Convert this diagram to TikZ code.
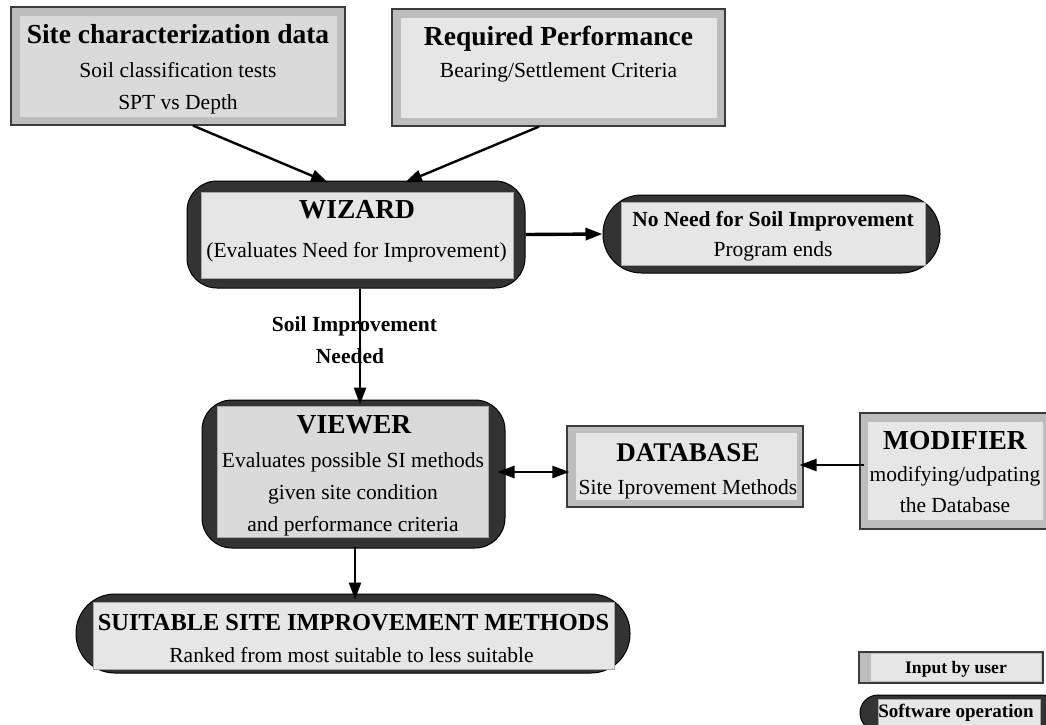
\documentclass[tikz,border=0pt]{standalone}
\usepackage{fontspec}
\setmainfont{Liberation Serif}
\usetikzlibrary{arrows.meta}
\definecolor{outgray}{HTML}{BDBDBD}
\definecolor{inlight}{HTML}{E6E6E6}
\definecolor{inmid}{HTML}{DADADA}
\definecolor{darkfill}{HTML}{333333}
\definecolor{edgecol}{HTML}{3A3A3A}
\newcommand{\innerrect}[6]{\path[#6] ([shift={(#2pt,-#3pt)}]#1.north west) rectangle ([shift={(-#4pt,#5pt)}]#1.south east);}
\tikzset{
  inbox/.style={rectangle, draw=edgecol, line width=1.2pt, fill=outgray, inner sep=0pt},
  softbox/.style={rectangle, draw=black, line width=1pt, fill=darkfill, inner sep=0pt},
  infill/.style={fill=inlight},
  infillmid/.style={fill=inmid},
  softin/.style={fill=inlight, draw=gray!70, line width=0.6pt},
  softinmid/.style={fill=inmid, draw=gray!70, line width=0.6pt},
  ttl/.style={font=\fontsize{27.5}{30}\selectfont\bfseries, anchor=base, inner sep=0pt},
  txt/.style={font=\fontsize{21.5}{24}\selectfont, anchor=base, inner sep=0pt},
  btxt/.style={font=\fontsize{21.5}{24}\selectfont\bfseries, anchor=base, inner sep=0pt},
  arr/.style={line width=2.4pt, -{Triangle[length=17pt,width=12pt]}},
  dblarr/.style={line width=2.4pt, {Triangle[length=17pt,width=12pt]}-{Triangle[length=17pt,width=12pt]}},
}
\begin{document}
\begin{tikzpicture}[x=1pt,y=-1pt]
\useasboundingbox (0,0) rectangle (1046,724);
\fill[white] (0,0) rectangle (1046,724);
\clip (0,0) rectangle (1046,724);

% Site characterization
\node[inbox, minimum width=334pt, minimum height=118pt] (site) at (178,66) {};
\innerrect{site}{10}{10}{9}{9}{infillmid}
\node[ttl] (siteT) at (178,43) {Site characterization data};
\node[txt] (siteA) at (178,77) {Soil classification tests};
\node[txt] (siteB) at (178,109) {SPT vs Depth};

% Required performance
\node[inbox, minimum width=333pt, minimum height=117pt] (req) at (558.5,67.5) {};
\innerrect{req}{10}{10}{9}{9}{infill}
\node[ttl] (reqT) at (558.5,45) {Required Performance};
\node[txt] (reqA) at (558.5,77) {Bearing/Settlement Criteria};

% WIZARD
\node[softbox, rounded corners=30pt, minimum width=338pt, minimum height=107pt] (wiz) at (356,234.5) {};
\innerrect{wiz}{15}{12}{12}{10}{softin}
\node[ttl] (wizT) at (357,218) {WIZARD};
\node[txt] (wizA) at (356.5,257) {(Evaluates Need for Improvement)};

% No need
\node[softbox, rounded corners=38.5pt, minimum width=337pt, minimum height=78pt] (nono) at (771.5,234) {};
\innerrect{nono}{19}{8}{15}{8}{softin}
\node[btxt] (nonoT) at (773,226) {No Need for Soil Improvement};
\node[txt] (nonoA) at (773,256) {Program ends};

% VIEWER
\node[softbox, rounded corners=30pt, minimum width=303pt, minimum height=148pt] (viewer) at (353.5,474) {};
\innerrect{viewer}{16}{7}{17}{11}{softinmid}
\node[ttl] (viewT) at (354,433) {VIEWER};
\node[txt] (viewA) at (353,467) {Evaluates possible SI methods};
\node[txt] (viewB) at (353,499) {given site condition};
\node[txt] (viewC) at (353,531) {and performance criteria};

% DATABASE
\node[inbox, minimum width=236pt, minimum height=81pt] (db) at (685,466.5) {};
\innerrect{db}{10}{8}{7}{8}{infill}
\node[ttl, font=\fontsize{27}{30}\selectfont\bfseries] (dbT) at (688,461) {DATABASE};
\node[txt] (dbA) at (688,494) {Site Iprovement Methods};

% MODIFIER
\node[inbox, minimum width=192pt, minimum height=116pt] (mod) at (956,471) {};
\innerrect{mod}{9}{10}{10}{10}{infill}
\node[ttl] (modT) at (955,449) {MODIFIER};
\node[txt] (modA) at (955,481) {modifying/udpating};
\node[txt] (modB) at (955,512) {the Database};

% SUITABLE
\node[softbox, rounded corners=39pt, minimum width=554pt, minimum height=79pt] (suit) at (353,633.5) {};
\innerrect{suit}{18}{9}{16}{4}{softin}
\node[btxt, font=\fontsize{24.4}{27}\selectfont\bfseries] (suitT) at (353.5,630) {SUITABLE SITE IMPROVEMENT METHODS};
\node[txt] (suitA) at (351.5,662) {Ranked from most suitable to less suitable};

% Legend
\node[inbox, minimum width=184pt, minimum height=31pt] (legin) at (951,667.5) {};
\innerrect{legin}{13}{3}{3}{3}{infill}
\node[btxt, font=\fontsize{17.6}{20}\selectfont\bfseries] (leginT) at (956,673) {Input by user};
\node[softbox, rounded corners=18pt, minimum width=200pt, minimum height=36pt] (legsw) at (960,713) {};
\innerrect{legsw}{19}{5}{20}{0}{softin}
\node[btxt, font=\fontsize{19}{21}\selectfont\bfseries] (legswT) at (956,717) {Software operation};

% Edge label
\node[btxt] (lab1) at (354.5,331) {Soil Improvement};
\node[btxt] (lab2) at (350,363) {Needed};

% Connectors
\draw[arr] ([xshift=15pt]site.south) -- ([shift={(-28pt,-2pt)}]wiz.north);
\draw[arr] ([xshift=-19.5pt]req.south) -- ([shift={(49pt,-2pt)}]wiz.north);
\draw[arr, line width=3.4pt] (wiz.east) -- (nono.west);
\draw[arr] ([xshift=4pt]wiz.south) -- ([shift={(6.5pt,-5pt)}]viewer.north);
\draw[dblarr] ([shift={(-8pt,2pt)}]viewer.east) -- ([shift={(3pt,-5.5pt)}]db.west);
\draw[arr] ([shift={(5pt,6pt)}]mod.west) -- ([shift={(-4pt,1.5pt)}]db.east);
\draw[arr] ([shift={(1.5pt,2pt)}]viewer.south) -- ([shift={(2pt,-6pt)}]suit.north);
\end{tikzpicture}
\end{document}
